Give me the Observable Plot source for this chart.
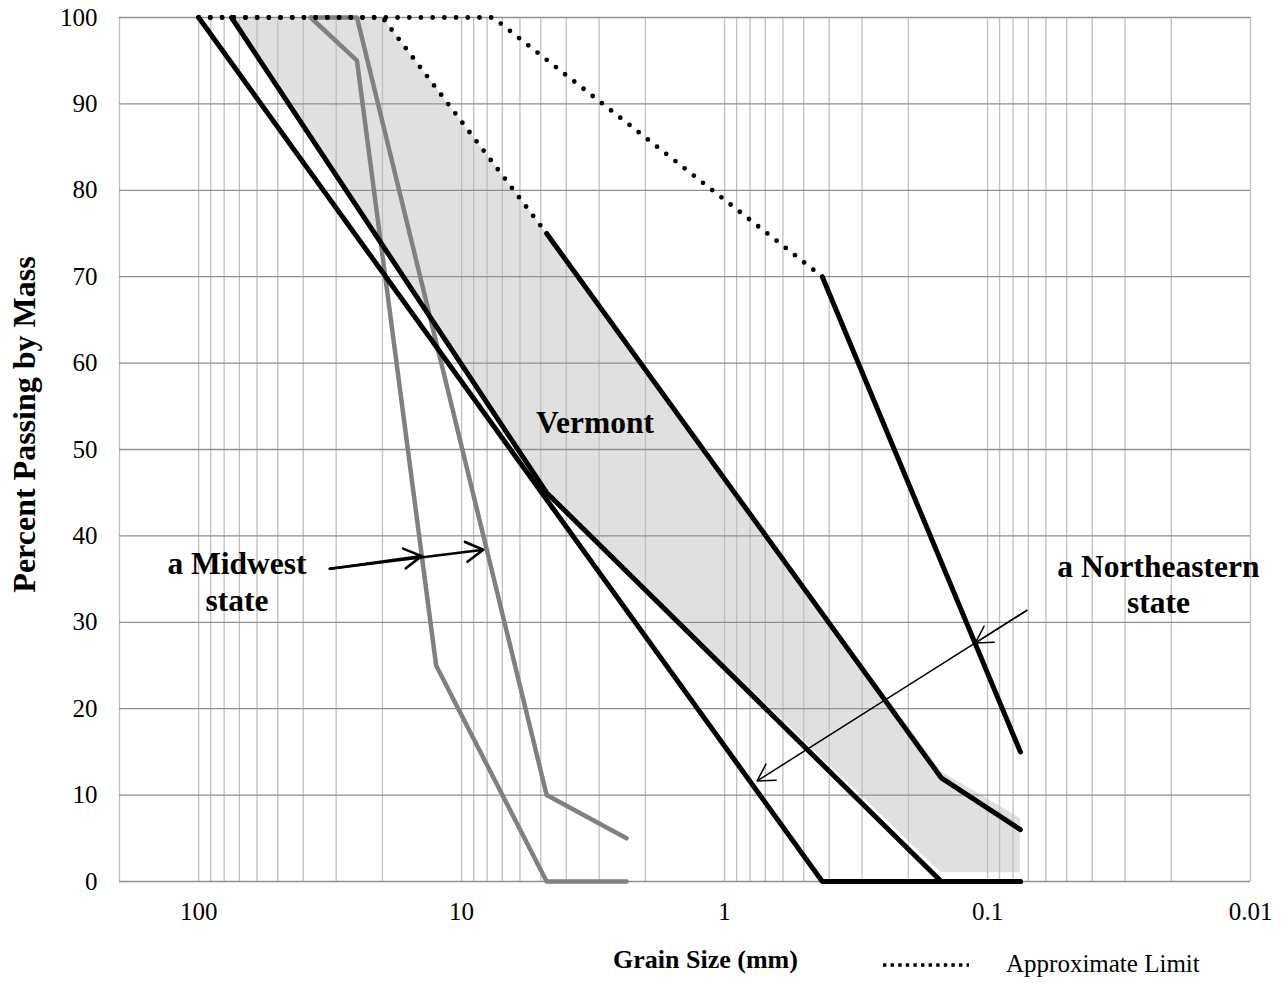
<!DOCTYPE html>
<html>
<head>
<meta charset="utf-8">
<script src="https://cdn.jsdelivr.net/npm/d3@7"></script>
<script src="https://cdn.jsdelivr.net/npm/@observablehq/plot@0.6"></script>
<style>
  html, body { margin: 0; padding: 0; background: #fff; }
  #wrap { position: relative; width: 1286px; height: 984px; overflow: hidden; }
  #legend { position: absolute; left: 0; top: 930px; }
</style>
</head>
<body>
<div id="wrap"></div>
<script>
// ---------- axis ticks ----------
const xTickValues = [100, 10, 1, 0.1, 0.01];
const xTickLabels = ["100", "10", "1", "0.1", "0.01"];
const yTickValues = [0, 10, 20, 30, 40, 50, 60, 70, 80, 90, 100];

// ---------- Vermont band (shaded area) ----------
const bandLowerSize = [75, 4.75, 0.15, 0.075];
const bandLowerPct  = [100, 45, 1, 1];
const bandUpperSize = [20, 4.75, 0.15, 0.075];
const bandUpperPct  = [100, 75, 12.7, 7.3];

// ---------- Vermont limits ----------
const vtLowerSize  = [75, 4.75, 0.15, 0.075];
const vtLowerPct   = [100, 45, 0, 0];
const vtUpperSize  = [4.75, 0.15, 0.075];
const vtUpperPct   = [75, 12, 6];
const vtApproxSize = [100, 20, 4.75];
const vtApproxPct  = [100, 100, 75];

// ---------- a Northeastern state ----------
const neLowerSize  = [100, 0.425, 0.075];
const neLowerPct   = [100, 0, 0];
const neUpperSize  = [0.425, 0.075];
const neUpperPct   = [70, 15];
const neApproxSize = [100, 7.6, 0.425];
const neApproxPct  = [100, 100, 70];

// ---------- a Midwest state ----------
const mwLowerSize = [37.5, 25, 12.5, 4.75, 2.36];
const mwLowerPct  = [100, 95, 25, 0, 0];
const mwUpperSize = [37.5, 25, 4.75, 2.36];
const mwUpperPct  = [100, 100, 10, 5];

// ---------- annotations ----------
const labelTexts = ["Vermont", "a Midwest\nstate", "a Northeastern\nstate"];
const labelSize  = [3.11, 71.5, 0.0224];
const labelPct   = [53.2, 34.8, 34.5];

// arrows: start -> tip
const mwArrowStartSize = [31.7, 31.7];
const mwArrowStartPct  = [36.2, 36.2];
const mwArrowEndSize   = [14.2, 8.27];
const mwArrowEndPct    = [37.66, 38.4];
const neArrowStartSize = [0.0709, 0.0709];
const neArrowStartPct  = [31.38, 31.38];
const neArrowEndSize   = [0.1114, 0.752];
const neArrowEndPct    = [27.59, 11.64];

// ---------- helpers ----------
const pts = (xs, ys) => xs.map((x, i) => ({x, y: ys[i]}));
const band = bandLowerSize.map((s, i) => ({
  x1: s, y1: bandLowerPct[i], x2: bandUpperSize[i], y2: bandUpperPct[i]
}));
const arrows = (sx, sy, ex, ey) => sx.map((s, i) => ({x1: s, y1: sy[i], x2: ex[i], y2: ey[i]}));
const labels = labelTexts.map((t, i) => ({t, x: labelSize[i], y: labelPct[i]}));

// log grid lines 0.01 .. 200
const gridX = [];
for (let e = -2; e <= 2; e++) {
  for (let k = 1; k <= 9; k++) {
    const v = +(k * Math.pow(10, e)).toPrecision(3);
    if (v <= 200) gridX.push(v);
  }
}

const font = "'Liberation Serif', 'Times New Roman', Times, serif";
const black = "#000";
const gray = "#808080";
const dotted = {stroke: black, strokeWidth: 4.8, strokeDasharray: "0 11.7", strokeLinecap: "round"};
const solid = {stroke: black, strokeWidth: 5, strokeLinecap: "round", strokeLinejoin: "round"};
const graySolid = {stroke: gray, strokeWidth: 4.5, strokeLinecap: "round", strokeLinejoin: "round"};

const chart = Plot.plot({
  width: 1286,
  height: 984,
  marginLeft: 119,
  marginRight: 36,
  marginTop: 17,
  marginBottom: 103,
  style: {fontFamily: font, fontSize: "25px", color: "#000", background: "#fff", overflow: "visible"},
  x: {type: "log", domain: [200, 0.01]},
  y: {domain: [0, 100]},
  marks: [
    Plot.area(band, {x1: "x1", y1: "y1", x2: "x2", y2: "y2", fill: "#e0e0e0"}),
    Plot.ruleX(gridX, {stroke: "#bfbfbf", strokeWidth: 1.3}),
    Plot.ruleY(yTickValues, {stroke: "#8f8f8f", strokeWidth: 1.3}),
    Plot.axisX({ticks: xTickValues, tickSize: 0, tickPadding: 21, label: null, fontSize: 25,
      tickFormat: d => xTickLabels[xTickValues.indexOf(d)]}),
    Plot.axisY({ticks: yTickValues, tickSize: 0, tickPadding: 22, label: null, fontSize: 25}),

    // Midwest (gray)
    Plot.line(pts(mwLowerSize, mwLowerPct), {x: "x", y: "y", ...graySolid}),
    Plot.line(pts(mwUpperSize, mwUpperPct), {x: "x", y: "y", ...graySolid}),

    // approximate limits (dotted)
    Plot.line(pts(vtApproxSize, vtApproxPct), {x: "x", y: "y", ...dotted}),
    Plot.line(pts(neApproxSize, neApproxPct), {x: "x", y: "y", ...dotted}),

    // Vermont & Northeastern (black)
    Plot.line(pts(vtLowerSize, vtLowerPct), {x: "x", y: "y", ...solid}),
    Plot.line(pts(vtUpperSize, vtUpperPct), {x: "x", y: "y", ...solid}),
    Plot.line(pts(neLowerSize, neLowerPct), {x: "x", y: "y", ...solid}),
    Plot.line(pts(neUpperSize, neUpperPct), {x: "x", y: "y", ...solid}),

    // arrows
    Plot.arrow(arrows(mwArrowStartSize, mwArrowStartPct, mwArrowEndSize, mwArrowEndPct),
      {x1: "x1", y1: "y1", x2: "x2", y2: "y2", stroke: black, strokeWidth: 2.6, headLength: 11.5, headAngle: 60}),
    Plot.arrow(arrows(neArrowStartSize, neArrowStartPct, neArrowEndSize, neArrowEndPct),
      {x1: "x1", y1: "y1", x2: "x2", y2: "y2", stroke: black, strokeWidth: 1.5, headLength: 19, headAngle: 60}),

    // annotations
    Plot.text(labels, {x: "x", y: "y", text: "t", fontWeight: "bold", fontSize: 31.5,
      lineHeight: 1.15, textAnchor: "middle", lineAnchor: "middle", fill: black}),

    // axis titles
    Plot.text(["Percent Passing by Mass"], {frameAnchor: "left", text: d => d, rotate: -90,
      textAnchor: "middle", lineAnchor: "middle", dx: -95, dy: -25,
      fontWeight: "bold", fontSize: 32, fill: black}),
    Plot.text(["Grain Size (mm)"], {frameAnchor: "bottom", text: d => d,
      textAnchor: "middle", lineAnchor: "middle", dx: 20.5, dy: 77.7,
      fontWeight: "bold", fontSize: 26, fill: black})
  ]
});

const wrap = document.getElementById("wrap");
wrap.appendChild(chart);

// legend (below the plot area)
const legend = d3.create("svg")
  .attr("id", "legend")
  .attr("width", 1286)
  .attr("height", 54);
legend.append("line")
  .attr("x1", 883).attr("x2", 969)
  .attr("y1", 35).attr("y2", 35)
  .attr("stroke", "#000")
  .attr("stroke-width", 3.5)
  .attr("stroke-dasharray", "3.4 4.2");
legend.append("text")
  .attr("x", 1006).attr("y", 42)
  .attr("font-family", font)
  .attr("font-size", 25)
  .attr("fill", "#000")
  .text("Approximate Limit");
wrap.appendChild(legend.node());
</script>
</body>
</html>
